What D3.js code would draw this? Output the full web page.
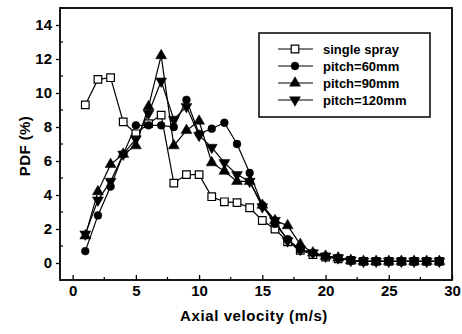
<!DOCTYPE html>
<html>
<head>
<meta charset="utf-8">
<script src="https://cdn.jsdelivr.net/npm/d3@7"></script>
<style>
  body { margin: 0; background: #fff; }
  text { font-family: 'Liberation Sans', Arial, sans-serif; font-weight: bold; fill: #000; }
</style>
</head>
<body>
<svg></svg>
<script>
let velocity = [1,2,3,4,5,6,7,8,9,10,11,12,13,14,15,16,17,18,19,20,21,22,23,24,25,26,27,28,29]
let singleSpray = [9.3,10.8,10.9,8.3,7.6,8.2,8.7,4.7,5.2,5.2,3.9,3.6,3.55,3.25,2.5,2.0,1.25,0.75,0.5,0.35,0.25,0.15,0.1,0.1,0.1,0.1,0.1,0.1,0.1]
let pitch60 = [0.7,2.8,4.5,6.4,8.1,8.1,8.1,8.0,9.6,7.6,7.9,8.25,7.0,5.3,3.4,2.3,1.4,0.8,0.6,0.4,0.3,0.15,0.1,0.1,0.1,0.1,0.1,0.1,0.1]
let pitch90 = [1.6,4.2,5.8,6.4,6.9,9.2,12.2,6.9,7.8,8.35,5.9,5.4,4.8,4.8,3.4,2.5,2.2,1.1,0.6,0.4,0.3,0.15,0.1,0.1,0.1,0.1,0.1,0.1,0.1]
let pitch120 = [1.7,3.7,4.8,6.4,7.3,8.8,10.7,8.45,9.2,7.5,6.8,5.9,5.2,4.8,3.3,2.5,1.3,0.8,0.6,0.4,0.3,0.15,0.1,0.1,0.1,0.1,0.1,0.1,0.1]
let seriesNames = ['single spray', 'pitch=60mm', 'pitch=90mm', 'pitch=120mm']
let xTicks = [0,5,10,15,20,25,30]
let yTicks = [0,2,4,6,8,10,12,14]

let width = 462
let height = 334
let padLeft = 60, padRight = 452, padTop = 8, padBottom = 280

let svg = d3.select('svg').attr('width', width).attr('height', height)

let xScale = d3.scaleLinear().domain([-1, 30]).range([padLeft, padRight])
let yScale = d3.scaleLinear().domain([-1, 15]).range([padBottom, padTop])

let series = [
  {name: seriesNames[0], values: singleSpray, symbol: d3.symbolSquare, size: 58, fill: '#fff'},
  {name: seriesNames[1], values: pitch60, symbol: d3.symbolCircle, size: 48, fill: '#000'},
  {name: seriesNames[2], values: pitch90, symbol: d3.symbolTriangle, size: 52, fill: '#000'},
  {name: seriesNames[3], values: pitch120, symbol: d3.symbolTriangle, size: 52, fill: '#000', flip: true}
]

let makeAxes = () => {
  // x axis, ticks inside
  let xAxis = d3.axisBottom(xScale).tickValues(xTicks).tickSizeInner(-5).tickSizeOuter(0).tickPadding(5)
  let gx = svg.append('g').attr('transform', 'translate(0,' + padBottom + ')').call(xAxis)
  gx.select('.domain').remove()
  gx.selectAll('text').style('font-size', '15px').attr('dy', '0.75em')
  svg.append('g').attr('transform', 'translate(0,' + padBottom + ')')
    .selectAll('line').data(xTicks.slice(0, -1).map(d => d + 2.5)).enter().append('line')
    .attr('x1', d => xScale(d)).attr('x2', d => xScale(d))
    .attr('y1', 0).attr('y2', -3).attr('stroke', '#000').attr('stroke-width', 1.2)

  // y axis, major ticks outside
  let yAxis = d3.axisLeft(yScale).tickValues(yTicks).tickSizeInner(4).tickSizeOuter(0).tickPadding(4)
  let gy = svg.append('g').attr('transform', 'translate(' + padLeft + ',0)').call(yAxis)
  gy.select('.domain').remove()
  gy.selectAll('text').style('font-size', '15px')
  svg.append('g').attr('transform', 'translate(' + padLeft + ',0)')
    .selectAll('line').data(yTicks.map(d => d + 1)).enter().append('line')
    .attr('x1', 0).attr('x2', 3)
    .attr('y1', d => yScale(d)).attr('y2', d => yScale(d)).attr('stroke', '#000').attr('stroke-width', 1.2)

  svg.selectAll('.tick line').attr('stroke', '#000').attr('stroke-width', 1.3)

  svg.append('rect').attr('x', padLeft).attr('y', padTop)
    .attr('width', padRight - padLeft).attr('height', padBottom - padTop)
    .attr('fill', 'none').attr('stroke', '#000').attr('stroke-width', 1.8)

  svg.append('text').attr('x', 254).attr('y', 321)
    .attr('text-anchor', 'middle').style('font-size', '15px').style('letter-spacing', '0.6px')
    .text('Axial velocity (m/s)')
  svg.append('text').attr('transform', 'translate(30,' + ((padTop + padBottom) / 2 + 2) + ') rotate(-90)')
    .attr('text-anchor', 'middle').style('font-size', '15px').style('letter-spacing', '0.4px').text('PDF (%)')
}

let drawMarker = (g, s) => {
  g.append('path').attr('d', d3.symbol().type(s.symbol).size(s.size))
    .attr('transform', s.flip ? 'rotate(180)' : null)
    .attr('fill', s.fill).attr('stroke', '#000').attr('stroke-width', s.fill === '#fff' ? 1.2 : 0.5)
}

let makeLines = () => {
  let line = d3.line().x((d, i) => xScale(velocity[i])).y(d => yScale(d))
  series.forEach(s => {
    svg.append('path').datum(s.values).attr('d', line)
      .attr('fill', 'none').attr('stroke', '#000').attr('stroke-width', 1.2)
  })
  series.forEach(s => {
    s.values.forEach((v, i) => {
      let g = svg.append('g').attr('transform', 'translate(' + xScale(velocity[i]) + ',' + yScale(v) + ')')
      drawMarker(g, s)
    })
  })
}

let makeLegend = () => {
  let lg = svg.append('g')
  lg.append('rect').attr('x', 259).attr('y', 33).attr('width', 171).attr('height', 84)
    .attr('fill', '#fff').attr('stroke', '#000').attr('stroke-width', 1.5)
  series.forEach((s, i) => {
    let y = 49 + i * 17
    lg.append('line').attr('x1', 278).attr('x2', 313).attr('y1', y).attr('y2', y)
      .attr('stroke', '#000').attr('stroke-width', 1.2)
    drawMarker(lg.append('g').attr('transform', 'translate(295,' + y + ')'), s)
    lg.append('text').attr('x', 323).attr('y', y + 5).style('font-size', '13px').text(s.name)
  })
}

makeAxes()
makeLines()
makeLegend()
</script>
</body>
</html>
